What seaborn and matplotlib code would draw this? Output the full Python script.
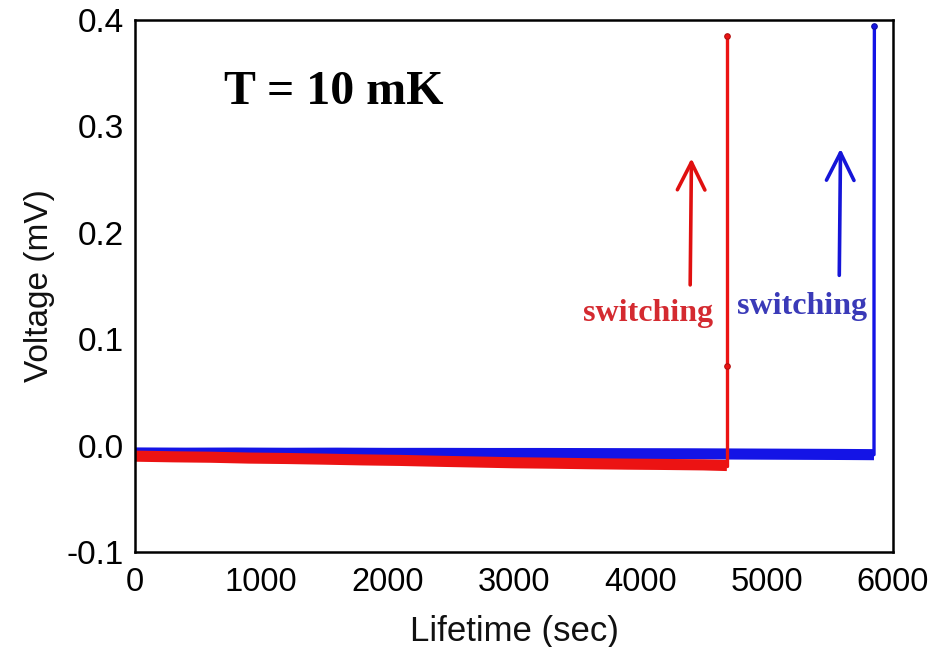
import matplotlib
matplotlib.use("Agg")
import matplotlib.pyplot as plt
import numpy as np
import pandas as pd
import seaborn as sns

# Baseline voltage before switching (sec, mV)
red_base_t = [0, 300, 600, 900, 1200, 1500, 1800, 2100, 2400, 2700, 3000,
              3300, 3600, 3900, 4200, 4500, 4686]
red_base_v = [-0.0100, -0.0106, -0.0110, -0.0118, -0.0122, -0.0128, -0.0135,
              -0.0140, -0.0148, -0.0155, -0.0162, -0.0166, -0.0171, -0.0175,
              -0.0178, -0.0182, -0.0188]
blue_base_t = [0, 400, 800, 1200, 1600, 2000, 2400, 2800, 3200, 3600, 4000,
               4400, 4800, 5200, 5600, 5850]
blue_base_v = [-0.0070, -0.0072, -0.0071, -0.0073, -0.0072, -0.0074, -0.0074,
               -0.0075, -0.0075, -0.0076, -0.0077, -0.0078, -0.0080, -0.0082,
               -0.0084, -0.0086]

# Switching events: jump to the resistive state
red_jump_t = [4686, 4686, 4686]
red_jump_v = [-0.0188, 0.075, 0.385]
red_mark_t = [4686, 4686]
red_mark_v = [0.075, 0.385]
blue_jump_t = [5850, 5850, 5853]
blue_jump_v = [-0.0086, 0.192, 0.394]
blue_mark_t = [5853]
blue_mark_v = [0.394]

x_ticks = [0, 1000, 2000, 3000, 4000, 5000, 6000]
y_ticks = [-0.1, 0.0, 0.1, 0.2, 0.3, 0.4]
y_tick_labels = ["-0.1", "0.0", "0.1", "0.2", "0.3", "0.4"]

RED = "#ec1313"
BLUE = "#1414e6"

sns.set_theme(style="white")
plt.rcParams["font.family"] = ["Liberation Sans", "DejaVu Sans"]

fig = plt.figure(figsize=(9.37, 6.47), dpi=100)
ax = fig.add_axes([0.144, 0.147, 0.809, 0.822])

red_base = pd.DataFrame({"t": red_base_t, "v": red_base_v})
blue_base = pd.DataFrame({"t": blue_base_t, "v": blue_base_v})
red_jump = pd.DataFrame({"t": red_jump_t, "v": red_jump_v})
blue_jump = pd.DataFrame({"t": blue_jump_t, "v": blue_jump_v})

sns.lineplot(data=blue_base, x="t", y="v", ax=ax, color=BLUE, lw=8,
             solid_capstyle="butt", estimator=None, sort=False)
sns.lineplot(data=blue_jump, x="t", y="v", ax=ax, color=BLUE, lw=2.4,
             estimator=None, sort=False)
sns.lineplot(data=red_base, x="t", y="v", ax=ax, color=RED, lw=8,
             solid_capstyle="butt", estimator=None, sort=False)
sns.lineplot(data=red_jump, x="t", y="v", ax=ax, color=RED, lw=2.4,
             estimator=None, sort=False)
ax.plot(red_mark_t, red_mark_v, "o", color=RED, ms=4, mec="#b01010", mew=0.8)
ax.plot(blue_mark_t, blue_mark_v, "o", color=BLUE, ms=4, mec="#1010a0", mew=0.8)

ax.set_xlim(0, 6000)
ax.set_ylim(-0.1, 0.4)
ax.set_xticks(x_ticks)
ax.set_xticklabels([str(v) for v in x_ticks])
ax.set_yticks(y_ticks)
ax.set_yticklabels(y_tick_labels)
ax.tick_params(axis="both", direction="out", length=4, width=1,
               color="#666666", labelcolor="black")
ax.tick_params(axis="x", labelsize=23.5, pad=7)
ax.tick_params(axis="y", labelsize=24, pad=4)

for s in ax.spines.values():
    s.set_color("black")
    s.set_linewidth(1.8)

ax.set_xlabel("Lifetime (sec)", fontsize=25, color="#111111", labelpad=12)
ax.set_ylabel("Voltage (mV)", fontsize=24, color="#111111", labelpad=8)

serif = ["Liberation Serif", "DejaVu Serif"]
ax.text(1575, 0.321, "T = 10 mK", fontsize=34.5, fontweight="bold",
        family=serif, color="black", ha="center", va="baseline")
ax.text(4061, 0.1245, "switching", fontsize=23, fontweight="bold",
        family=serif, color="#d42a30", ha="center", va="center")
ax.text(5280, 0.131, "switching", fontsize=23, fontweight="bold",
        family=serif, color="#3a3ab8", ha="center", va="center")

ax.annotate("", xy=(4405, 0.270), xytext=(4395, 0.151),
            arrowprops=dict(arrowstyle="->,head_length=0.9,head_width=0.45",
                            color="#e01010", lw=2.6, mutation_scale=22,
                            shrinkA=0, shrinkB=0))
ax.annotate("", xy=(5585, 0.279), xytext=(5575, 0.160),
            arrowprops=dict(arrowstyle="->,head_length=0.9,head_width=0.45",
                            color="#1515d8", lw=2.6, mutation_scale=22,
                            shrinkA=0, shrinkB=0))

fig.savefig("out.png", dpi=100)
